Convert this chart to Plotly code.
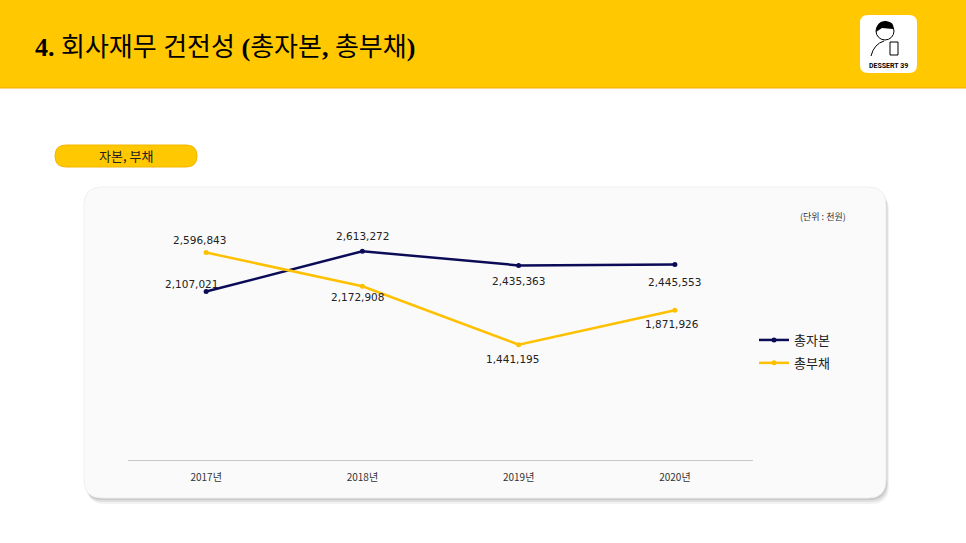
import plotly.graph_objects as go

W, H = 966, 543

years = ["2017년", "2018년", "2019년", "2020년"]
total_equity = [2107021, 2613272, 2435363, 2445553]
total_debt = [2596843, 2172908, 1441195, 1871926]
series_names = ["총자본", "총부채"]

NAVY = "#0B0B57"
GOLD = "#FFC000"
HEADER = "#FFC800"

# label offsets in px (dx, dy), dy > 0 moves up
equity_shift = [(-15, 8), (0, 15), (0, -16), (0, -17)]
debt_shift = [(-7, 13), (-5, -11), (-6, -14), (-3, -14)]


def px(x):
    return x / W


def py(y):
    return 1 - y / H


def rrect(x0, y0, x1, y1, r):
    # rounded rectangle path in paper coords, from pixel box
    p = [
        f"M {px(x0 + r)} {py(y0)}",
        f"L {px(x1 - r)} {py(y0)}",
        f"Q {px(x1)} {py(y0)} {px(x1)} {py(y0 + r)}",
        f"L {px(x1)} {py(y1 - r)}",
        f"Q {px(x1)} {py(y1)} {px(x1 - r)} {py(y1)}",
        f"L {px(x0 + r)} {py(y1)}",
        f"Q {px(x0)} {py(y1)} {px(x0)} {py(y1 - r)}",
        f"L {px(x0)} {py(y0 + r)}",
        f"Q {px(x0)} {py(y0)} {px(x0 + r)} {py(y0)}",
        "Z",
    ]
    return " ".join(p)


fig = go.Figure()

fig.add_trace(go.Scatter(
    x=years, y=total_equity, name=series_names[0], mode="lines+markers",
    legendgroup="a",
    line=dict(color=NAVY, width=2.5), marker=dict(size=5, color=NAVY),
))
fig.add_trace(go.Scatter(
    x=years, y=total_debt, name=series_names[1], mode="lines+markers",
    legendgroup="b",
    line=dict(color=GOLD, width=2.5), marker=dict(size=5, color=GOLD),
))

shapes = []
# header band
shapes.append(dict(type="rect", xref="paper", yref="paper", x0=0, x1=1,
                   y0=py(88), y1=1, fillcolor=HEADER, line_width=0, layer="below"))
shapes.append(dict(type="line", xref="paper", yref="paper", x0=0, x1=1,
                   y0=py(88), y1=py(88), line=dict(color="#F2A900", width=1.2), layer="below"))
# logo box
shapes.append(dict(type="path", xref="paper", yref="paper", path=rrect(860, 15, 917, 73, 8),
                   fillcolor="white", line_width=0, layer="below"))
# tiny face drawing for the logo
shapes.append(dict(type="circle", xref="paper", yref="paper", x0=px(876), x1=px(894),
                   y0=py(40), y1=py(22), fillcolor="white", line=dict(color="black", width=1)))
shapes.append(dict(type="path", xref="paper", yref="paper",
                   path=f"M {px(876)} {py(32)} Q {px(877)} {py(20)} {px(886)} {py(21)} "
                        f"Q {px(895)} {py(22)} {px(893)} {py(29)} L {px(882)} {py(28)} Z",
                   fillcolor="black", line_width=0))
shapes.append(dict(type="rect", xref="paper", yref="paper", x0=px(890), x1=px(898),
                   y0=py(55), y1=py(42), fillcolor="white", line=dict(color="black", width=1)))
shapes.append(dict(type="path", xref="paper", yref="paper",
                   path=f"M {px(871)} {py(56)} Q {px(874)} {py(44)} {px(884)} {py(41)}",
                   line=dict(color="black", width=1)))
# section pill
shapes.append(dict(type="path", xref="paper", yref="paper", path=rrect(55, 145, 197, 167, 11),
                   fillcolor=HEADER, line=dict(color="#F3B600", width=1), layer="below"))
# card shadow + card
for off, col in [(6, "rgba(0,0,0,0.05)"), (4, "rgba(0,0,0,0.08)"), (2, "rgba(0,0,0,0.10)")]:
    shapes.append(dict(type="path", xref="paper", yref="paper",
                       path=rrect(84 + off / 2, 187 + off, 886 + off / 2, 498 + off, 18),
                       fillcolor=col, line_width=0, layer="below"))
shapes.append(dict(type="path", xref="paper", yref="paper", path=rrect(84, 187, 886, 498, 18),
                   fillcolor="#FAFAFA", line=dict(color="#EFEFEF", width=1), layer="below"))

annotations = [
    dict(xref="paper", yref="paper", x=px(33), y=py(47), xanchor="left", yanchor="middle",
         showarrow=False,
         text="<b>4.</b> 회사재무 건전성 <b>(</b>총자본<b>,</b> 총부채<b>)</b>",
         font=dict(family="Liberation Serif, Noto Sans CJK KR", size=26, color="black")),
    dict(xref="paper", yref="paper", x=px(888), y=py(66), xanchor="center", yanchor="middle",
         showarrow=False, text="<b>DESSERT 39</b>",
         font=dict(family="Roboto", size=7, color="black")),
    dict(xref="paper", yref="paper", x=px(126), y=py(156), xanchor="center", yanchor="middle",
         showarrow=False, text="자본, 부채",
         font=dict(family="Noto Sans CJK KR", size=13, color="#222222")),
    dict(xref="paper", yref="paper", x=px(823), y=py(216), xanchor="center", yanchor="middle",
         showarrow=False, text="(단위 : 천원)",
         font=dict(family="Noto Sans CJK KR", size=9, color="#333333")),
]

for vals, shifts in [(total_equity, equity_shift), (total_debt, debt_shift)]:
    for yr, v, (dx, dy) in zip(years, vals, shifts):
        annotations.append(dict(
            x=yr, y=v, xref="x", yref="y", text=f"{v:,}", showarrow=False,
            xshift=dx, yshift=dy, yanchor="middle",
            font=dict(family="DejaVu Sans", size=10.5, color="#222222")))

fig.update_layout(
    width=W, height=H,
    margin=dict(l=0, r=0, t=0, b=0),
    paper_bgcolor="white", plot_bgcolor="rgba(0,0,0,0)",
    shapes=shapes, annotations=annotations,
    showlegend=True,
    legend=dict(x=px(754), y=py(325), xanchor="left", yanchor="top",
                bgcolor="rgba(0,0,0,0)", font=dict(family="Noto Sans CJK KR", size=13, color="#222222"),
                itemwidth=30, tracegroupgap=3),
    xaxis=dict(domain=[px(128), px(753)], range=[-0.5, 3.5], showgrid=False, zeroline=False,
               showline=True, linecolor="#C8C8C8", linewidth=1, ticks="",
               tickfont=dict(family="Noto Sans CJK KR", size=10, color="#333333"),
               ticklabelstandoff=8),
    yaxis=dict(domain=[py(459.5), py(220.4)], range=[0, 3000000], visible=False),
)

fig.write_html("out.html", config={"displayModeBar": False},
               post_script="document.body.style.margin='0';")
